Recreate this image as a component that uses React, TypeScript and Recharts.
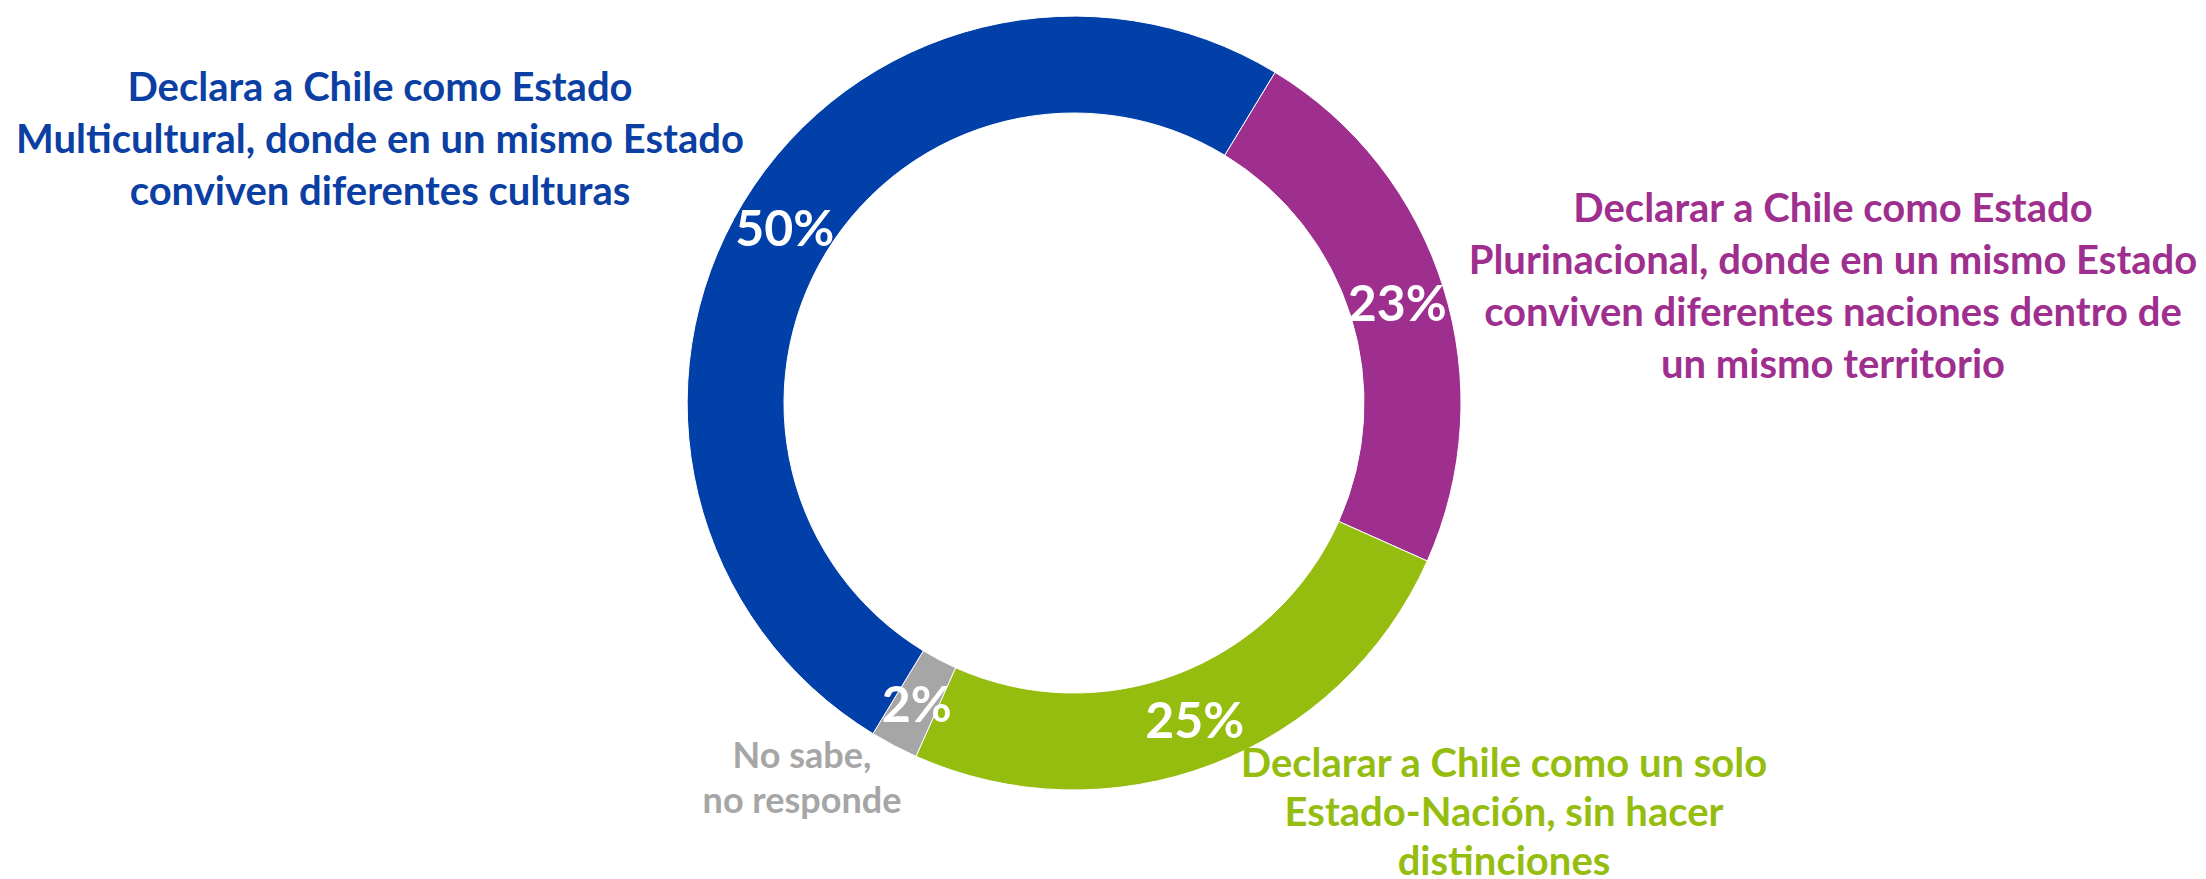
import { PieChart, Pie, Cell } from 'recharts';

// Orden horario desde el borde azul/morado (arriba a la derecha)
const categories = [
  'Declarar a Chile como Estado Plurinacional',
  'Declarar a Chile como un solo Estado-Nación',
  'No sabe, no responde',
  'Declara a Chile como Estado Multicultural',
];
const values = [23, 25, 2, 50];
const percentLabels = ['23%', '25%', '2%', '50%'];
const colors = ['#9F2F8E', '#95BD0F', '#A6A6A6', '#0040A8'];

const blueLines = ['Declara a Chile como Estado', 'Multicultural, donde en un mismo Estado', 'conviven diferentes culturas'];
const purpleLines = ['Declarar a Chile como Estado', 'Plurinacional, donde en un mismo Estado', 'conviven diferentes naciones dentro de', 'un mismo territorio'];
const greenLines = ['Declarar a Chile como un solo', 'Estado-Nación, sin hacer', 'distinciones'];
const grayLines = ['No sabe,', 'no responde'];

const FONT = 'Lato, "Open Sans", sans-serif';
const RAD = Math.PI / 180;

const data = categories.map((name, i) => ({ name, value: values[i], label: percentLabels[i] }));

// etiqueta de porcentaje en el centro del anillo
const renderLabel = ({ cx, cy, midAngle, innerRadius, outerRadius, index }: any) => {
  const r = (innerRadius + outerRadius) / 2;
  const x = cx + r * Math.cos(-midAngle * RAD);
  const y = cy + r * Math.sin(-midAngle * RAD);
  return (
    <text
      x={x}
      y={y}
      fill="#fff"
      textAnchor="middle"
      dominantBaseline="central"
      style={{ fontFamily: FONT, fontWeight: 700, fontSize: 50 }}
    >
      {percentLabels[index]}
    </text>
  );
};

function Block({ lines, color, cx, top, size, lh }: { lines: string[]; color: string; cx: number; top: number; size: number; lh: number }) {
  return (
    <div
      style={{
        position: 'absolute',
        left: cx,
        top,
        transform: 'translateX(-50%)',
        textAlign: 'center',
        whiteSpace: 'nowrap',
        color,
        fontFamily: FONT,
        fontWeight: 700,
        fontSize: size,
        lineHeight: `${lh}px`,
      }}
    >
      {lines.map((l, i) => (
        <div key={i}>{l}</div>
      ))}
    </div>
  );
}

export default function App() {
  return (
    <div style={{ position: 'relative', width: 2206, height: 879, background: '#fff', overflow: 'hidden' }}>
      <style>{`body{margin:0}`}</style>
      <PieChart width={2206} height={879}>
        <Pie
          data={data}
          dataKey="value"
          nameKey="name"
          cx={1069}
          cy={398}
          innerRadius={290}
          outerRadius={387}
          startAngle={58.7}
          endAngle={-301.3}
          stroke="#fff"
          strokeWidth={1}
          label={renderLabel}
          labelLine={false}
          isAnimationActive={false}
        >
          {data.map((d, i) => (
            <Cell key={d.name} fill={colors[i]} />
          ))}
        </Pie>
      </PieChart>
      <Block lines={blueLines} color="#0B3FA3" cx={380} top={60} size={40} lh={52} />
      <Block lines={purpleLines} color="#9F2F8E" cx={1833} top={181} size={40} lh={52} />
      <Block lines={greenLines} color="#95BD0F" cx={1504} top={738} size={40} lh={49} />
      <Block lines={grayLines} color="#A6A6A6" cx={802} top={732} size={36} lh={45} />
    </div>
  );
}
